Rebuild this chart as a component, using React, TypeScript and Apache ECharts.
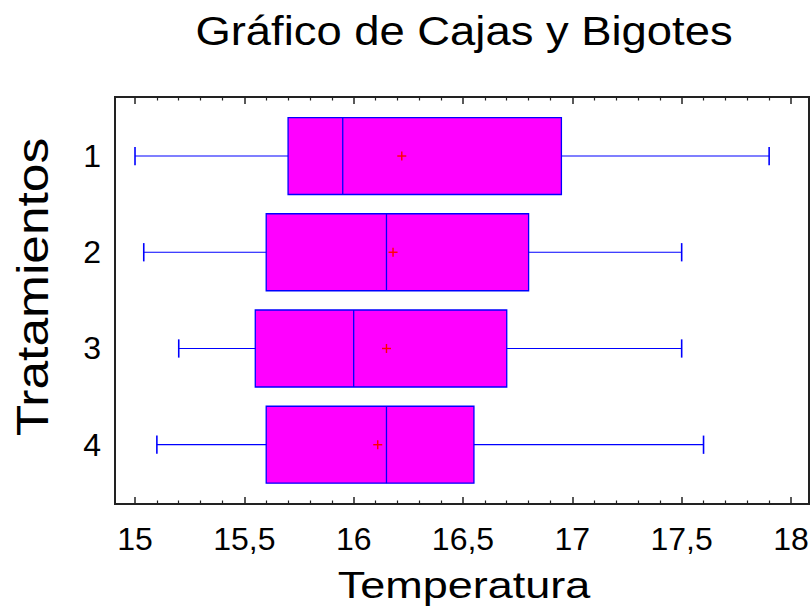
import React, { useEffect, useRef } from "react";
import * as echarts from "echarts";

const titleText = "Gráfico de Cajas y Bigotes";
const xName = "Temperatura";
const yName = "Tratamientos";
const categories = ["1", "2", "3", "4"];
const minVals = [15.0, 15.04, 15.2, 15.1];
const q1Vals = [15.7, 15.6, 15.55, 15.6];
const medianVals = [15.95, 16.15, 16.0, 16.15];
const q3Vals = [16.95, 16.8, 16.7, 16.55];
const maxVals = [17.9, 17.5, 17.5, 17.6];
const meanVals = [16.22, 16.18, 16.15, 16.11];
const majorTicks = [15, 15.5, 16, 16.5, 17, 17.5, 18];
const minorTicks = [
  15.1, 15.2, 15.3, 15.4, 15.6, 15.7, 15.8, 15.9,
  16.1, 16.2, 16.3, 16.4, 16.6, 16.7, 16.8, 16.9,
  17.1, 17.2, 17.3, 17.4, 17.6, 17.7, 17.8, 17.9,
];

const FONT = "'Liberation Sans', Arial, sans-serif";
const X_MIN = 14.9085;
const X_MAX = 18.0823;
const Y_MIN = 0.3867;
const Y_MAX = 4.616;

export default function App() {
  const ref = useRef<HTMLDivElement>(null);
  useEffect(() => {
    if (!ref.current) return;
    const chart = echarts.init(ref.current, undefined, { renderer: "svg" });
    const data = categories.map((c, i) => [
      i + 1,
      minVals[i],
      q1Vals[i],
      medianVals[i],
      q3Vals[i],
      maxVals[i],
      meanVals[i],
    ]);
    const fmt = (v: number) => String(v).replace(".", ",");
    const baseX = {
      type: "value",
      min: X_MIN,
      max: X_MAX,
      splitLine: { show: false },
      axisLine: { show: false },
    };
    const blue = "#0000FF";
    const option: any = {
      animation: false,
      backgroundColor: "#ffffff",
      graphic: [
        {
          type: "text",
          x: 464,
          y: 31,
          scaleX: 1.107,
          style: {
            text: titleText,
            fontFamily: FONT,
            fontSize: 41,
            fill: "#000",
            align: "center",
            verticalAlign: "middle",
          },
        },
        {
          type: "text",
          x: 464,
          y: 586,
          scaleX: 1.25,
          style: {
            text: xName,
            fontFamily: FONT,
            fontSize: 36,
            fill: "#000",
            align: "center",
            verticalAlign: "middle",
          },
        },
        {
          type: "text",
          x: 33,
          y: 287,
          rotation: Math.PI / 2,
          scaleX: 1.17,
          style: {
            text: yName,
            fontFamily: FONT,
            fontSize: 44,
            fill: "#000",
            align: "center",
            verticalAlign: "middle",
          },
        },
      ],
      grid: {
        left: 115,
        right: 3,
        top: 97,
        bottom: 111,
        show: true,
        borderColor: "#222",
        borderWidth: 2,
        backgroundColor: "transparent",
      },
      xAxis: [
        {
          ...baseX,
          position: "bottom",
          axisTick: { show: true, inside: true, length: 7, customValues: majorTicks, lineStyle: { color: "#222", width: 1.5 } },
          axisLabel: {
            customValues: majorTicks,
            formatter: (v: number) => fmt(v),
            margin: 19,
            fontFamily: FONT,
            fontSize: 32,
            color: "#000",
          },
        },
        {
          ...baseX,
          position: "bottom",
          axisTick: { show: true, inside: true, length: 3.5, customValues: minorTicks, lineStyle: { color: "#222", width: 1.2 } },
          axisLabel: { show: false },
        },
        {
          ...baseX,
          position: "top",
          axisTick: { show: true, inside: true, length: 7, customValues: majorTicks, lineStyle: { color: "#222", width: 1.5 } },
          axisLabel: { show: false },
        },
        {
          ...baseX,
          position: "top",
          axisTick: { show: true, inside: true, length: 3.5, customValues: minorTicks, lineStyle: { color: "#222", width: 1.2 } },
          axisLabel: { show: false },
        },
      ],
      yAxis: [
        {
          type: "value",
          inverse: true,
          min: Y_MIN,
          max: Y_MAX,
          position: "left",
          splitLine: { show: false },
          axisLine: { show: false },
          axisTick: { show: false },
          axisLabel: {
            customValues: [1, 2, 3, 4],
            formatter: (v: number) => categories[Math.round(v) - 1] ?? "",
            margin: 14,
            fontFamily: FONT,
            fontSize: 32,
            color: "#000",
          },
        },
      ],
      series: [
        {
          type: "custom",
          xAxisIndex: 0,
          yAxisIndex: 0,
          data,
          encode: { x: [1, 2, 3, 4, 5, 6], y: 0 },
          renderItem: (params: any, api: any) => {
            const y = api.value(0);
            const lo = api.value(1);
            const q1 = api.value(2);
            const med = api.value(3);
            const q3 = api.value(4);
            const hi = api.value(5);
            const mean = api.value(6);
            const halfH = 0.4;
            const capH = 0.095;
            const [xLo, yc] = api.coord([lo, y]);
            const [xQ1] = api.coord([q1, y]);
            const [xMed] = api.coord([med, y]);
            const [xQ3] = api.coord([q3, y]);
            const [xHi] = api.coord([hi, y]);
            const [xMean] = api.coord([mean, y]);
            const yTop = api.coord([q1, y - halfH])[1];
            const yBot = api.coord([q1, y + halfH])[1];
            const cTop = api.coord([q1, y - capH])[1];
            const cBot = api.coord([q1, y + capH])[1];
            const ls = { stroke: blue, lineWidth: 1.2 };
            return {
              type: "group",
              children: [
                { type: "line", shape: { x1: xLo, y1: yc, x2: xQ1, y2: yc }, style: ls },
                { type: "line", shape: { x1: xQ3, y1: yc, x2: xHi, y2: yc }, style: ls },
                { type: "line", shape: { x1: xLo, y1: cTop, x2: xLo, y2: cBot }, style: { stroke: blue, lineWidth: 1.6 } },
                { type: "line", shape: { x1: xHi, y1: cTop, x2: xHi, y2: cBot }, style: { stroke: blue, lineWidth: 1.6 } },
                {
                  type: "rect",
                  shape: { x: xQ1, y: yTop, width: xQ3 - xQ1, height: yBot - yTop },
                  style: { fill: "#FF00FF", stroke: blue, lineWidth: 1.3 },
                },
                { type: "line", shape: { x1: xMed, y1: yTop, x2: xMed, y2: yBot }, style: { stroke: blue, lineWidth: 1.3 } },
                { type: "line", shape: { x1: xMean - 4.5, y1: yc, x2: xMean + 4.5, y2: yc }, style: { stroke: "#FF0000", lineWidth: 1.4 } },
                { type: "line", shape: { x1: xMean, y1: yc - 4.5, x2: xMean, y2: yc + 4.5 }, style: { stroke: "#FF0000", lineWidth: 1.4 } },
              ],
            };
          },
        },
      ],
    };
    chart.setOption(option);
    return () => chart.dispose();
  }, []);
  return (
    <div
      ref={ref}
      style={{ position: "absolute", left: 0, top: 0, width: 812, height: 615 }}
    />
  );
}
